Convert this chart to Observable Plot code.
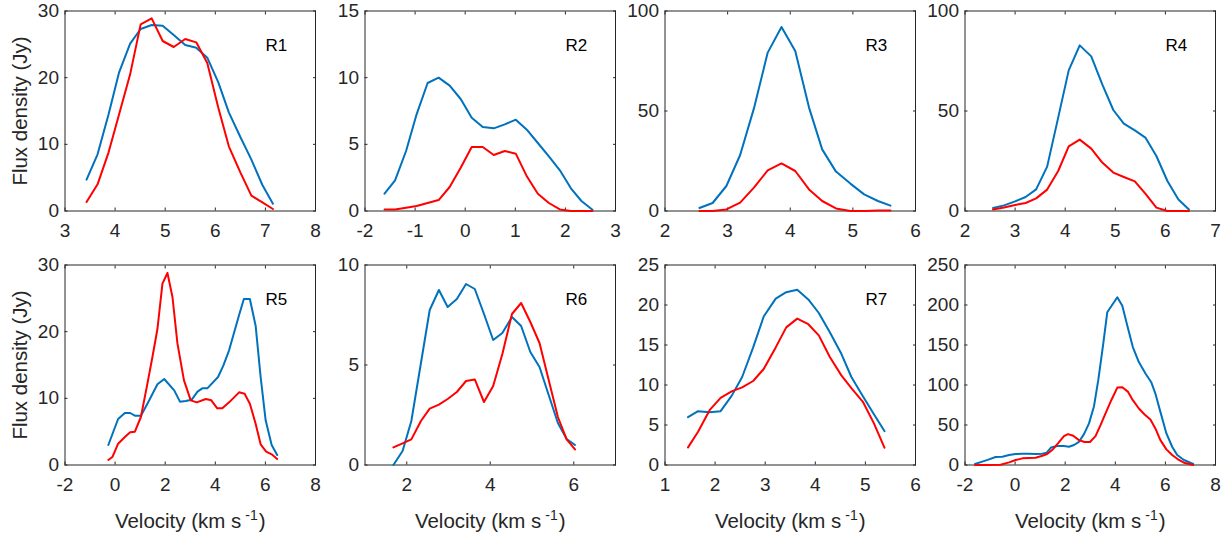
<!DOCTYPE html>
<html><head><meta charset="utf-8">
<script src="https://cdn.jsdelivr.net/npm/d3@7"></script>
<script src="https://cdn.jsdelivr.net/npm/@observablehq/plot@0.6"></script>
<style>
html,body{margin:0;padding:0;background:#fff;}
#chart{position:relative;width:1231px;height:538px;overflow:hidden;font-family:"Liberation Sans",Arial,Helvetica,sans-serif;}
#chart svg{position:absolute;overflow:visible;max-width:none;}
</style></head><body><div id="chart"></div>
<script>
// ---------------- data ----------------
const r1_v = [3.43,3.65,3.87,4.08,4.30,4.51,4.73,4.95,5.17,5.40,5.62,5.84,6.06,6.27,6.50,6.72,6.94,7.15];
const r1_blue = [4.7,8.5,14.5,20.8,25.1,27.3,27.9,27.8,26.4,24.9,24.5,23.0,19.3,14.8,11.1,7.7,3.9,1.1];
const r1_red = [1.35,4.0,8.8,14.5,20.5,28.0,28.9,25.5,24.6,25.8,25.3,22.2,15.5,9.7,5.8,2.3,1.3,0.3];

const r2_v = [-1.61,-1.40,-1.18,-0.97,-0.75,-0.53,-0.31,-0.09,0.13,0.35,0.57,0.79,1.01,1.23,1.45,1.67,1.89,2.11,2.32,2.54];
const r2_blue = [1.3,2.3,4.5,7.25,9.6,10.0,9.4,8.4,7.0,6.3,6.2,6.5,6.85,6.1,5.1,4.1,3.05,1.7,0.75,0.1];
const r2_red = [0.12,0.12,0.25,0.38,0.6,0.82,1.8,3.25,4.8,4.8,4.2,4.5,4.3,2.6,1.3,0.6,0.12,0,0,0];

const r3_v = [2.55,2.76,2.98,3.20,3.42,3.64,3.86,4.08,4.30,4.51,4.73,4.96,5.18,5.40,5.60];
const r3_blue = [1.5,4.0,12.5,28,51.3,79.2,92,80,51.7,30.8,19.7,13.7,8.3,5,2.7];
const r3_red = [0,0,0.8,4.2,11.7,20.3,23.8,20,10.8,5,1.3,0,0,0.2,0.3];

const r4_v = [2.56,2.78,3.00,3.21,3.42,3.64,3.86,4.07,4.29,4.52,4.74,4.96,5.17,5.39,5.60,5.82,6.04,6.26,6.47];
const r4_blue = [1.5,2.8,4.8,7,10.8,22.2,46.7,70.3,82.8,77.3,63.3,50.5,43.7,40.3,36.7,27.5,15,5.7,0.8];
const r4_red = [0.7,1.8,3,4,6.3,10.7,20,32.3,35.7,31.2,24.2,19.2,17,14.8,8.7,1.7,0,0,0];

const r5_v_blue = [-0.27,0.12,0.39,0.60,0.79,1.03,1.29,1.69,1.96,2.36,2.59,2.82,3.06,3.29,3.48,3.68,4.11,4.32,4.55,4.95,5.14,5.38,5.61,5.81,6.01,6.25,6.47];
const r5_blue = [3.0,6.9,7.8,7.8,7.4,7.4,9.2,12.1,12.9,11.2,9.5,9.6,9.8,11.0,11.5,11.5,13.2,14.9,17.2,22.5,24.9,24.9,20.9,13.2,6.7,3.0,1.5];
const r5_v_red = [-0.27,-0.10,0.12,0.39,0.60,0.79,1.03,1.29,1.49,1.69,1.89,2.09,2.29,2.49,2.75,3.02,3.26,3.62,3.84,4.08,4.28,4.55,4.95,5.17,5.38,5.61,5.81,6.03,6.25,6.47];
const r5_red = [0.75,1.25,3.2,4.2,4.9,5.0,7.2,12.2,16.2,20.4,27.2,28.8,25.2,18.2,12.7,9.7,9.4,9.9,9.7,8.5,8.5,9.4,10.9,10.7,9.2,6.2,3.1,2.0,1.6,0.9];

const r6_v = [1.68,1.90,2.11,2.34,2.55,2.77,2.98,3.20,3.42,3.63,3.85,4.07,4.29,4.52,4.74,4.96,5.18,5.40,5.62,5.83,6.03];
const r6_blue = [0,0.7,2.2,5.1,7.75,8.75,7.9,8.3,9.05,8.8,7.55,6.25,6.6,7.4,6.95,5.65,4.9,3.5,2.1,1.3,1.0];
const r6_red = [0.88,1.08,1.28,2.2,2.82,3.02,3.3,3.65,4.2,4.28,3.15,3.95,5.55,7.55,8.1,7.15,6.1,4.25,2.4,1.28,0.78];

const r7_v = [1.46,1.66,1.89,2.11,2.33,2.54,2.76,2.97,3.21,3.42,3.64,3.86,4.07,4.29,4.52,4.72,4.95,5.17,5.38];
const r7_blue = [5.98,6.73,6.6,6.73,8.64,11.0,14.7,18.56,20.8,21.6,21.9,20.7,19.0,16.6,13.9,11.0,8.6,6.35,4.24];
const r7_red = [2.2,4.15,6.85,8.4,9.2,9.7,10.5,12.0,14.7,17.2,18.3,17.6,16.2,13.5,11.2,9.6,7.9,5.2,2.16];

const r8_v_blue = [-1.6,-1.31,-1.04,-0.78,-0.51,-0.24,0.02,0.29,0.55,0.82,1.09,1.26,1.44,1.68,1.95,2.15,2.35,2.55,2.75,2.95,3.15,3.32,3.52,3.68,4.08,4.28,4.48,4.70,4.94,5.21,5.43,5.6,5.8,6.04,6.27,6.47,6.74,7.11];
const r8_blue = [1.2,4.2,7,10,10.4,12.5,13.7,14.1,14.1,13.7,14.1,15.4,22,23.7,23.7,22.8,25,29,38.6,52,73.5,106,151.6,191,209.7,199,174,147.4,128.7,114,103.8,89.3,66.4,39.5,22.8,12.5,6.2,1.2];
const r8_v_red = [-1.6,-1.11,-0.58,-0.24,0.02,0.29,0.55,0.82,1.09,1.28,1.48,1.71,1.95,2.11,2.32,2.55,2.77,2.99,3.21,3.41,3.61,3.84,4.08,4.28,4.51,4.70,4.94,5.17,5.40,5.6,5.8,6.04,6.27,6.5,6.74,7.11];
const r8_red = [0,0,0.4,3.3,6.2,8.3,8.7,9.1,11.6,13.7,18.7,27,36.1,38.6,36.5,31.1,28.7,28.7,36.1,49.8,64.4,81,96.8,97.2,91.4,81,70.6,63.1,56.9,45.7,31.1,19.5,12.5,7.1,2.9,0];

// tick labels / domains
const r1_xticks = [3,4,5,6,7,8],  r1_yticks = [0,10,20,30];
const r2_xticks = [-2,-1,0,1,2,3], r2_yticks = [0,5,10,15];
const r3_xticks = [2,3,4,5,6],    r3_yticks = [0,50,100];
const r4_xticks = [2,3,4,5,6,7],  r4_yticks = [0,50,100];
const r5_xticks = [-2,0,2,4,6,8], r5_yticks = [0,10,20,30];
const r6_xticks = [2,4,6],        r6_yticks = [0,5,10];
const r7_xticks = [1,2,3,4,5,6],  r7_yticks = [0,5,10,15,20,25];
const r8_xticks = [-2,0,2,4,6,8], r8_yticks = [0,50,100,150,200,250];

const panelNames = ["R1","R2","R3","R4","R5","R6","R7",""];
const xDomains = [[3,8],[-2,3],[2,6],[2,7],[-2,8],[1,7],[1,6],[-2,8]];
const yDomains = [[0,30],[0,15],[0,100],[0,100],[0,30],[0,10],[0,25],[0,250]];
const yLabel = "Flux density (Jy)";
const xLabel = "Velocity (km s -1)";

const panels = [
  {xt:r1_xticks, yt:r1_yticks, bv:r1_v, b:r1_blue, rv:r1_v, r:r1_red},
  {xt:r2_xticks, yt:r2_yticks, bv:r2_v, b:r2_blue, rv:r2_v, r:r2_red},
  {xt:r3_xticks, yt:r3_yticks, bv:r3_v, b:r3_blue, rv:r3_v, r:r3_red},
  {xt:r4_xticks, yt:r4_yticks, bv:r4_v, b:r4_blue, rv:r4_v, r:r4_red},
  {xt:r5_xticks, yt:r5_yticks, bv:r5_v_blue, b:r5_blue, rv:r5_v_red, r:r5_red},
  {xt:r6_xticks, yt:r6_yticks, bv:r6_v, b:r6_blue, rv:r6_v, r:r6_red},
  {xt:r7_xticks, yt:r7_yticks, bv:r7_v, b:r7_blue, rv:r7_v, r:r7_red},
  {xt:r8_xticks, yt:r8_yticks, bv:r8_v_blue, b:r8_blue, rv:r8_v_red, r:r8_red}
];

// ---------------- layout ----------------
const AX = "#262626";
const BLUE = "#0072BD", RED = "#FF0000";
const FONT = '"Liberation Sans", Arial, Helvetica, sans-serif';
const ML = 64.5, FW = 250.5, MR = 5, FH = 200, MT = 10.5;
const rowTop = [0, 254];
const rowMB = [40, 73.5];
const chart = document.getElementById("chart");

panels.forEach((p, i) => {
  const row = Math.floor(i / 4), col = i % 4;
  const fmt = d => String(d);
  const marks = [
    Plot.frame({stroke: AX, strokeWidth: 1}),
    Plot.axisX(p.xt, {anchor: "bottom", tickSize: -3, fill: "none", stroke: AX, label: null}),
    Plot.axisX(p.xt, {anchor: "top", tickSize: -3, fill: "none", stroke: AX, label: null}),
    Plot.axisY(p.yt, {anchor: "left", tickSize: -3, fill: "none", stroke: AX, label: null}),
    Plot.axisY(p.yt, {anchor: "right", tickSize: -3, fill: "none", stroke: AX, label: null}),
    Plot.axisX(p.xt, {anchor: "bottom", tickSize: 0, tickPadding: 12.5, tickFormat: fmt, fill: AX, label: null, fontSize: 19}),
    Plot.axisY(p.yt, {anchor: "left", tickSize: 0, tickPadding: 6, tickFormat: fmt, fill: AX, label: null, fontSize: 19}),
    Plot.line(p.b, {x: p.bv, y: p.b, stroke: BLUE, strokeWidth: 2}),
    Plot.line(p.r, {x: p.rv, y: p.r, stroke: RED, strokeWidth: 2})
  ];
  if (panelNames[i]) marks.push(Plot.text([panelNames[i]], {frameAnchor: "top-right", dx: -50, dy: 35, textAnchor: "start", lineAnchor: "middle", fontSize: 17, fill: "#000"}));
  if (col === 0) marks.push(Plot.text([yLabel], {frameAnchor: "left", rotate: -90, dx: -44.5, textAnchor: "middle", lineAnchor: "middle", fontSize: 20.5, fill: AX}));
  if (row === 1) marks.push(Plot.text([xLabel], {frameAnchor: "bottom", dy: 56, textAnchor: "middle", fontSize: 20.5, fill: AX, lineAnchor: "middle"}));
  const H = MT + FH + rowMB[row];
  const svg = Plot.plot({
    width: ML + FW + MR, height: H,
    marginLeft: ML, marginRight: MR, marginTop: MT, marginBottom: rowMB[row],
    x: {type: "linear", domain: xDomains[i]},
    y: {type: "linear", domain: yDomains[i]},
    style: {fontFamily: FONT, fontSize: "19px", color: AX, background: "none", overflow: "visible"},
    marks
  });
  svg.style.left = (300 * col) + "px";
  svg.style.top = rowTop[row] + "px";
  // superscript in velocity label
  svg.querySelectorAll("text").forEach(t => {
    if (t.textContent === xLabel) {
      t.textContent = "";
      const ns = "http://www.w3.org/2000/svg";
      const a = document.createElementNS(ns, "tspan"); a.textContent = "Velocity (km s";
      const b = document.createElementNS(ns, "tspan"); b.textContent = "-1"; b.setAttribute("font-size", "14"); b.setAttribute("dy", "-8"); b.setAttribute("dx", "4");
      const c = document.createElementNS(ns, "tspan"); c.textContent = ")"; c.setAttribute("dy", "8"); c.setAttribute("dx", "1");
      t.append(a, b, c);
    }
  });
  chart.appendChild(svg);
});
</script>
</body></html>
